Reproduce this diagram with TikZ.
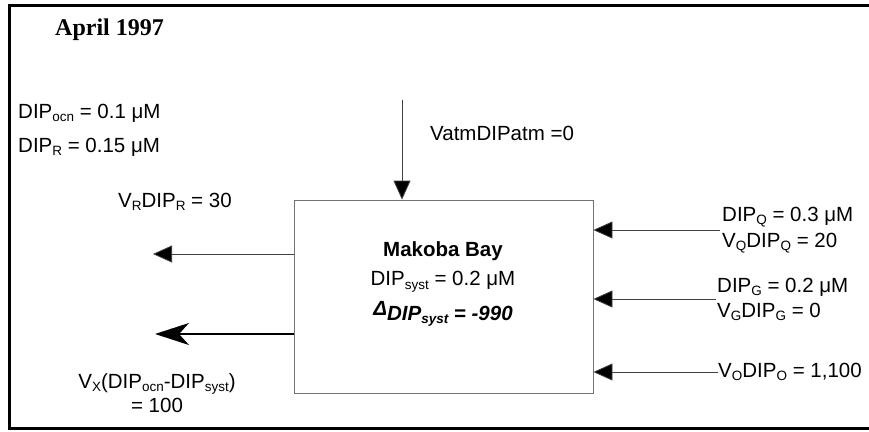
\documentclass[tikz,border=0pt]{standalone}
\usepackage{fontspec}
\setmainfont{Liberation Sans}
\newfontfamily\timesfont{Liberation Serif}
\usetikzlibrary{arrows.meta}
\newcommand\sbs[1]{\raisebox{-0.3ex}{\fontsize{13.5}{13.5}\selectfont #1}}
\tikzset{
  lbl/.style={inner sep=0pt, font=\fontsize{20.5}{24}\selectfont},
  thinarrow/.style={draw=black!75, line width=0.8pt, -{Triangle[length=19pt,width=17pt,fill=black]}},
  thickarrow/.style={draw=black, line width=2pt, -{Stealth[length=34pt,width=22pt,inset=10pt]}},
  frameline/.style={line width=3pt, black},
}
\begin{document}
\begin{tikzpicture}[x=1pt,y=-1pt]
\useasboundingbox (0,0) rectangle (869,431);
% frame
\draw[frameline] (869,5) -- (9,5) -- (9,428) -- (869,428);
% title
\node[inner sep=0pt, anchor=west, font=\timesfont\bfseries\fontsize{24}{28}\selectfont] (title) at (55,30) {April 1997};
% left texts
\node[lbl, anchor=west] (ocn) at (18,113) {DIP\sbs{ocn} = 0.1 μM};
\node[lbl, anchor=west] (dipr) at (18,147) {DIP\sbs{R} = 0.15 μM};
\node[lbl, anchor=west] (vr) at (118,202) {V\sbs{R}DIP\sbs{R} = 30};
\node[lbl, align=center, font=\fontsize{20.5}{24}\selectfont] (vx) at (157,393) {V\sbs{X}(DIP\sbs{ocn}-DIP\sbs{syst})\\= 100};
% box
\node[draw=black!55, line width=0.8pt, minimum width=299pt, minimum height=193pt, inner sep=0pt] (box) at (443.5,296.5) {};
\node[lbl, align=center, font=\fontsize{20.5}{29.5}\selectfont] (bay) at (443,284) {\textbf{Makoba Bay}\\DIP\sbs{syst} = 0.2 μM\\{\bfseries\itshape Δ\raisebox{-0.45ex}{DIP\sbs{syst} = -990}}};
% atmosphere
\coordinate (atmtop) at (402,100);
\node[lbl, anchor=west] (atm) at (430,133) {VatmDIPatm =0};
\draw[thinarrow] (atmtop) -- (atmtop |- box.north);
% left arrows
\coordinate (vrend) at (153,254);
\coordinate (vxend) at (155,334);
\draw[thinarrow] (box.west |- vrend) -- (vrend);
\draw[thickarrow] (box.west |- vxend) -- (vxend);
% right texts
\node[lbl, anchor=west] (dipq) at (722,217) {DIP\sbs{Q} = 0.3 μM};
\node[lbl, anchor=west] (vq) at (722,243) {V\sbs{Q}DIP\sbs{Q} = 20};
\node[lbl, anchor=west] (dipg) at (717,287) {DIP\sbs{G} = 0.2 μM};
\node[lbl, anchor=west] (vg) at (717,312) {V\sbs{G}DIP\sbs{G} = 0};
\node[lbl, anchor=west] (vo) at (718,372) {V\sbs{O}DIP\sbs{O} = 1,100};
% right arrows
\coordinate (qtail) at (720,230);
\coordinate (gtail) at (716,299);
\draw[thinarrow] (qtail) -- (box.east |- qtail);
\draw[thinarrow] (gtail) -- (box.east |- gtail);
\draw[thinarrow] (vo.west) -- (box.east |- vo.west);
\end{tikzpicture}
\end{document}
